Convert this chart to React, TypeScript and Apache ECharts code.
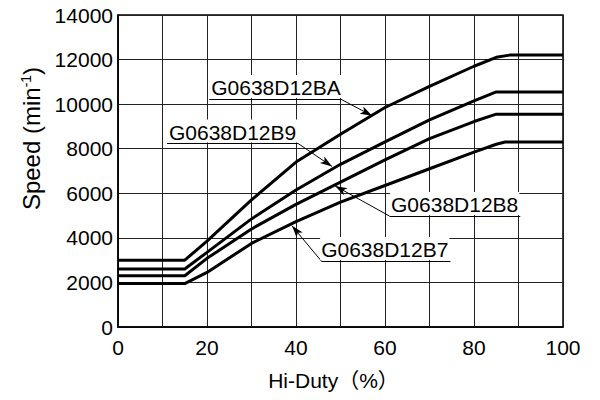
import React, { useEffect, useRef } from "react";
import * as echarts from "echarts";

// Hi-Duty (%) vs Speed (min-1)
const seriesBA: number[][] = [[0, 3000], [15, 3000], [20, 3850], [30, 5700], [40, 7400], [50, 8650], [60, 9850], [70, 10800], [80, 11700], [85, 12100], [88, 12200], [100, 12200]];
const seriesB9: number[][] = [[0, 2600], [15, 2600], [20, 3350], [30, 4850], [40, 6150], [50, 7300], [60, 8310], [70, 9290], [80, 10150], [85, 10550], [100, 10550]];
const seriesB8: number[][] = [[0, 2300], [15, 2300], [20, 3080], [30, 4400], [40, 5500], [50, 6500], [60, 7500], [70, 8450], [80, 9220], [85, 9550], [100, 9550]];
const seriesB7: number[][] = [[0, 1950], [15, 1950], [20, 2450], [30, 3750], [40, 4730], [50, 5600], [60, 6350], [70, 7100], [80, 7850], [85, 8200], [87, 8300], [100, 8300]];

const seriesNames = ["G0638D12BA", "G0638D12B9", "G0638D12B8", "G0638D12B7"];

// annotation callouts in data coordinates: underline start, underline end, arrow tip
const calloutBA = { start: [20.5, 10230], end: [50.0, 10230], tip: [57.1, 9480] };
const calloutB9 = { start: [11.0, 8230], end: [40.5, 8230], tip: [48.1, 7200] };
const calloutB8 = { start: [90.4, 4980], end: [61.0, 4980], tip: [48.8, 6330] };
const calloutB7 = { start: [74.7, 2960], end: [45.7, 2960], tip: [39.1, 4540] };

const FONT = "'Liberation Sans', Arial, 'Noto Sans CJK JP', sans-serif";
const FS = 21;

function callout(name: string, c: { start: number[]; end: number[]; tip: number[] }, textLeftIsStart: boolean) {
  const lineText = {
    show: true,
    formatter: name,
    position: textLeftIsStart ? "insideStartTop" : "insideEndTop",
    distance: 1,
    color: "#000",
    fontSize: FS,
    fontFamily: FONT,
    backgroundColor: "#fff",
    padding: [2, 1, 0, 1],
  };
  const left = textLeftIsStart ? c.start : c.end;
  const right = textLeftIsStart ? c.end : c.start;
  return [
    [
      { coord: left, symbol: "none", label: lineText },
      { coord: right, symbol: "none" },
    ],
    [
      { coord: c.end, symbol: "none", label: { show: false } },
      { coord: c.tip, symbol: "arrow", symbolSize: [6, 12], label: { show: false } },
    ],
  ];
}

export default function App() {
  const ref = useRef<HTMLDivElement>(null);
  useEffect(() => {
    document.body.style.margin = "0";
    const chart = echarts.init(ref.current!, undefined, { renderer: "svg" });
    const datasets = [seriesBA, seriesB9, seriesB8, seriesB7];
    const callouts = [
      callout(seriesNames[0], calloutBA, true),
      callout(seriesNames[1], calloutB9, true),
      callout(seriesNames[2], calloutB8, false),
      callout(seriesNames[3], calloutB7, false),
    ];
    chart.setOption({
      animation: false,
      backgroundColor: "#fff",
      textStyle: { fontFamily: FONT },
      grid: {
        left: 118,
        top: 15,
        width: 445,
        height: 312,
        show: true,
        borderColor: "#000",
        borderWidth: 1.5,
        backgroundColor: "transparent",
      },
      xAxis: {
        type: "value",
        min: 0,
        max: 100,
        interval: 10,
        name: "Hi-Duty（%）",
        nameLocation: "middle",
        nameGap: 43,
        nameTextStyle: { color: "#000", fontSize: FS, fontFamily: FONT, padding: [0, 14, 0, 0] },
        axisLine: { show: true, lineStyle: { color: "#000", width: 1.5 } },
        axisTick: { show: false },
        axisLabel: {
          color: "#000",
          fontSize: FS,
          fontFamily: FONT,
          margin: 10,
          formatter: (v: number) => (v % 20 === 0 ? String(v) : ""),
        },
        splitLine: { show: true, lineStyle: { color: "#222", width: 1 } },
      },
      yAxis: {
        type: "value",
        min: 0,
        max: 14000,
        interval: 2000,
        name: "{a|Speed (min}{sup|-1}{a|)}",
        nameLocation: "middle",
        nameGap: 72,
        nameTextStyle: {
          color: "#000",
          fontSize: 24,
          fontFamily: FONT,
          padding: [0, 0, 0, 65],
          rich: {
            a: { fontSize: 24, fontFamily: FONT, color: "#000" },
            sup: { fontSize: 14, fontFamily: FONT, color: "#000", padding: [0, 0, 11, 0] },
          },
        },
        axisLine: { show: true, lineStyle: { color: "#000", width: 1.5 } },
        axisTick: { show: false },
        axisLabel: {
          color: "#000",
          fontSize: FS,
          fontFamily: FONT,
          margin: 5,
          formatter: (v: number) => String(v),
        },
        splitLine: { show: true, lineStyle: { color: "#222", width: 1 } },
      },
      series: datasets.map((d, i) => ({
        name: seriesNames[i],
        type: "line",
        data: d,
        showSymbol: false,
        symbol: "none",
        smooth: false,
        lineStyle: { color: "#000", width: 3, join: "round" },
        z: 3,
        markLine: {
          silent: true,
          symbol: "none",
          lineStyle: { color: "#000", width: 1, type: "solid" },
          emphasis: { disabled: true },
          data: callouts[i],
        },
      })),
    });
    return () => chart.dispose();
  }, []);
  return <div ref={ref} style={{ width: 600, height: 400 }} />;
}
